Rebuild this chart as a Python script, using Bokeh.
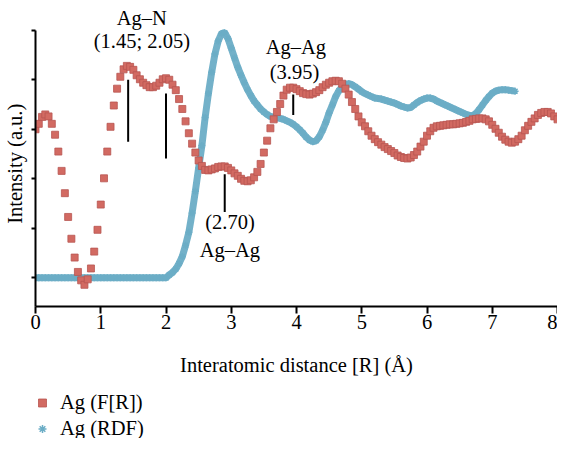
from bokeh.plotting import figure
from bokeh.layouts import column
from bokeh.models import Range1d, Label, Legend, LegendItem, FixedTicker, ColumnDataSource
from bokeh.embed import file_html
from bokeh.resources import INLINE

STEP = 0.05

# Ag (F[R]), x = 0, 0.05, ..., 8.00
fr_values = [
    3.00, 3.11, 3.25, 3.30, 3.26, 3.11, 2.89, 2.55, 2.16, 1.71,
    1.23, 0.79, 0.41, 0.12, -0.05, -0.14, -0.03, 0.19, 0.53, 0.97,
    1.48, 2.01, 2.55, 3.05, 3.48, 3.82, 4.06, 4.21, 4.28, 4.26,
    4.20, 4.09, 4.01, 3.94, 3.89, 3.85, 3.85, 3.88, 3.94, 4.01,
    4.03, 4.00, 3.90, 3.79, 3.61, 3.41, 3.16, 2.92, 2.71, 2.53,
    2.37, 2.26, 2.18, 2.17, 2.19, 2.21, 2.24, 2.25, 2.25, 2.22,
    2.17, 2.11, 2.06, 2.00, 1.96, 1.95, 1.97, 2.03, 2.14, 2.30,
    2.53, 2.77, 3.02, 3.20, 3.35, 3.51, 3.68, 3.80, 3.84, 3.84,
    3.81, 3.77, 3.73, 3.71, 3.70, 3.72, 3.75, 3.79, 3.85, 3.90,
    3.94, 3.97, 3.98, 3.97, 3.92, 3.82, 3.70, 3.55, 3.41, 3.26,
    3.14, 3.06, 2.96, 2.87, 2.80, 2.74, 2.69, 2.64, 2.60, 2.56,
    2.52, 2.47, 2.44, 2.42, 2.41, 2.43, 2.48, 2.55, 2.65, 2.75,
    2.87, 2.96, 3.03, 3.06, 3.07, 3.08, 3.09, 3.10, 3.10, 3.11,
    3.12, 3.13, 3.15, 3.17, 3.20, 3.21, 3.22, 3.22, 3.20, 3.16,
    3.09, 3.01, 2.93, 2.85, 2.79, 2.75, 2.73, 2.75, 2.80, 2.87,
    2.98, 3.07, 3.15, 3.22, 3.29, 3.33, 3.35, 3.35, 3.32, 3.26,
    3.20,
]

# Ag (RDF), x = 0, 0.05, ..., 7.35
rdf_values = [0.0] * 41 + [
    0.06, 0.11, 0.18, 0.29, 0.43, 0.66, 0.92, 1.31, 1.75,
    2.22, 2.67, 3.24, 3.72, 4.15, 4.52, 4.78, 4.93, 4.95, 4.83,
    4.64, 4.44, 4.25, 4.09, 3.94, 3.80, 3.68, 3.57, 3.49, 3.41,
    3.35, 3.30, 3.26, 3.24, 3.23, 3.22, 3.20, 3.17, 3.14, 3.10,
    3.05, 2.99, 2.92, 2.84, 2.78, 2.75, 2.77, 2.85, 2.98, 3.14,
    3.33, 3.49, 3.66, 3.78, 3.86, 3.91, 3.92, 3.90, 3.86, 3.81,
    3.76, 3.72, 3.69, 3.66, 3.63, 3.62, 3.61, 3.59, 3.57, 3.55,
    3.53, 3.50, 3.47, 3.45, 3.43, 3.44, 3.49, 3.54, 3.58, 3.61,
    3.63, 3.63, 3.61, 3.57, 3.54, 3.51, 3.48, 3.45, 3.42, 3.39,
    3.36, 3.33, 3.30, 3.28, 3.28, 3.32, 3.40, 3.49, 3.58, 3.66,
    3.73, 3.77, 3.79, 3.80, 3.80, 3.79, 3.78, 3.77,
]

fr_x = [round(i * STEP, 2) for i in range(len(fr_values))]
rdf_x = [round(i * STEP, 2) for i in range(len(rdf_values))]

x_ticks = [0, 1, 2, 3, 4, 5, 6, 7, 8]
y_ticks = [0, 1, 2, 3, 4, 5]

series_labels = ["Ag (F[R])", "Ag (RDF)"]

# annotation marker lines (x, y_start, y_end)
mark_x = [1.42, 2.00, 2.90, 3.95]
mark_y0 = [2.75, 2.41, 1.33, 3.29]
mark_y1 = [4.00, 3.72, 2.09, 3.70]

ann_text = ["Ag–N", "(1.45; 2.05)", "Ag–Ag", "(3.95)", "(2.70)", "Ag–Ag"]
ann_x = [1.63, 1.63, 3.99, 3.97, 2.98, 2.98]
ann_y = [5.24, 4.78, 4.66, 4.15, 1.13, 0.57]

FONT = "Liberation Serif"
FS = "20.5px"
RED_FILL = "#d26a62"
RED_LINE = "#b85550"
BLUE = "#6badc6"

W = 557

p = figure(width=W, height=381, output_backend="svg", toolbar_location=None,
           x_range=Range1d(0, 8), y_range=Range1d(-0.578, 5.60),
           min_border_left=30, min_border_right=0, min_border_top=0, min_border_bottom=75)
p.outline_line_color = None
p.grid.visible = False
p.background_fill_color = "white"

rdf_src = ColumnDataSource(dict(x=rdf_x, y=rdf_values))
fr_src = ColumnDataSource(dict(x=fr_x, y=fr_values))

p.line("x", "y", source=rdf_src, line_color=BLUE, line_width=7, line_alpha=0.95)
p.scatter("x", "y", source=rdf_src, marker="asterisk", size=7,
          line_color=BLUE, line_width=1.5)
p.scatter("x", "y", source=fr_src, marker="square", size=7,
          fill_color=RED_FILL, line_color=RED_LINE, line_width=0.8)

p.segment(x0=mark_x, y0=mark_y0, x1=mark_x, y1=mark_y1, line_color="black", line_width=2)

for t, xx, yy in zip(ann_text, ann_x, ann_y):
    p.add_layout(Label(x=xx, y=yy, text=t, text_align="center", text_baseline="alphabetic",
                       text_font=FONT, text_font_size=FS, text_color="black"))

# axes
p.xaxis.ticker = FixedTicker(ticks=x_ticks)
p.yaxis.ticker = FixedTicker(ticks=[], minor_ticks=y_ticks)
p.yaxis.bounds = (-0.578, 5.0)
for ax in (p.xaxis, p.yaxis):
    ax.axis_line_width = 2
    ax.axis_line_color = "black"
    ax.major_tick_line_width = 2
    ax.major_tick_line_color = "black"
    ax.major_tick_in = 0
    ax.major_label_text_font = FONT
    ax.major_label_text_font_size = FS
    ax.major_label_text_color = "black"
    ax.axis_label_text_font = FONT
    ax.axis_label_text_font_size = FS
    ax.axis_label_text_font_style = "normal"
    ax.axis_label_text_color = "black"
p.xaxis.minor_tick_line_color = None
p.yaxis.minor_tick_line_color = "black"
p.yaxis.minor_tick_line_width = 2
p.yaxis.minor_tick_in = 0
p.yaxis.minor_tick_out = 4
p.xaxis.major_tick_out = 7
p.xaxis.major_label_standoff = 1
p.xaxis.axis_label = "Interatomic distance [R] (Å)"
p.xaxis.axis_label_standoff = 22
p.yaxis.axis_label = "Intensity (a.u.)\u00a0\u00a0\u00a0\u00a0"
p.yaxis.major_label_standoff = 0
p.yaxis.axis_label_standoff = 6

# legend strip below the plot: swatches use the same sources, ranges keep data out of view
lg = figure(width=W, height=57, output_backend="svg", toolbar_location=None,
            x_range=Range1d(100, 101), y_range=Range1d(100, 101),
            x_axis_location=None, y_axis_location=None,
            min_border_left=0, min_border_right=0, min_border_top=0, min_border_bottom=0)
lg.grid.visible = False
lg.outline_line_color = None
sw_red = lg.scatter("x", "y", source=fr_src, marker="square", size=7,
                    fill_color=RED_FILL, line_color=RED_LINE, line_width=0.8)
sw_blue = lg.scatter("x", "y", source=rdf_src, marker="asterisk", size=7,
                     line_color=BLUE, line_width=1.5)
legend = Legend(items=[LegendItem(label=series_labels[0], renderers=[sw_red]),
                       LegendItem(label=series_labels[1], renderers=[sw_blue])],
                location=(-3, -2), orientation="vertical",
                padding=0, margin=0, spacing=3, glyph_width=20, glyph_height=23,
                label_standoff=8, label_text_font=FONT, label_text_font_size=FS,
                label_text_color="black", border_line_color=None,
                background_fill_alpha=0)
lg.add_layout(legend, "center")

open("out.html", "w").write(file_html(column(p, lg, spacing=0), INLINE))
